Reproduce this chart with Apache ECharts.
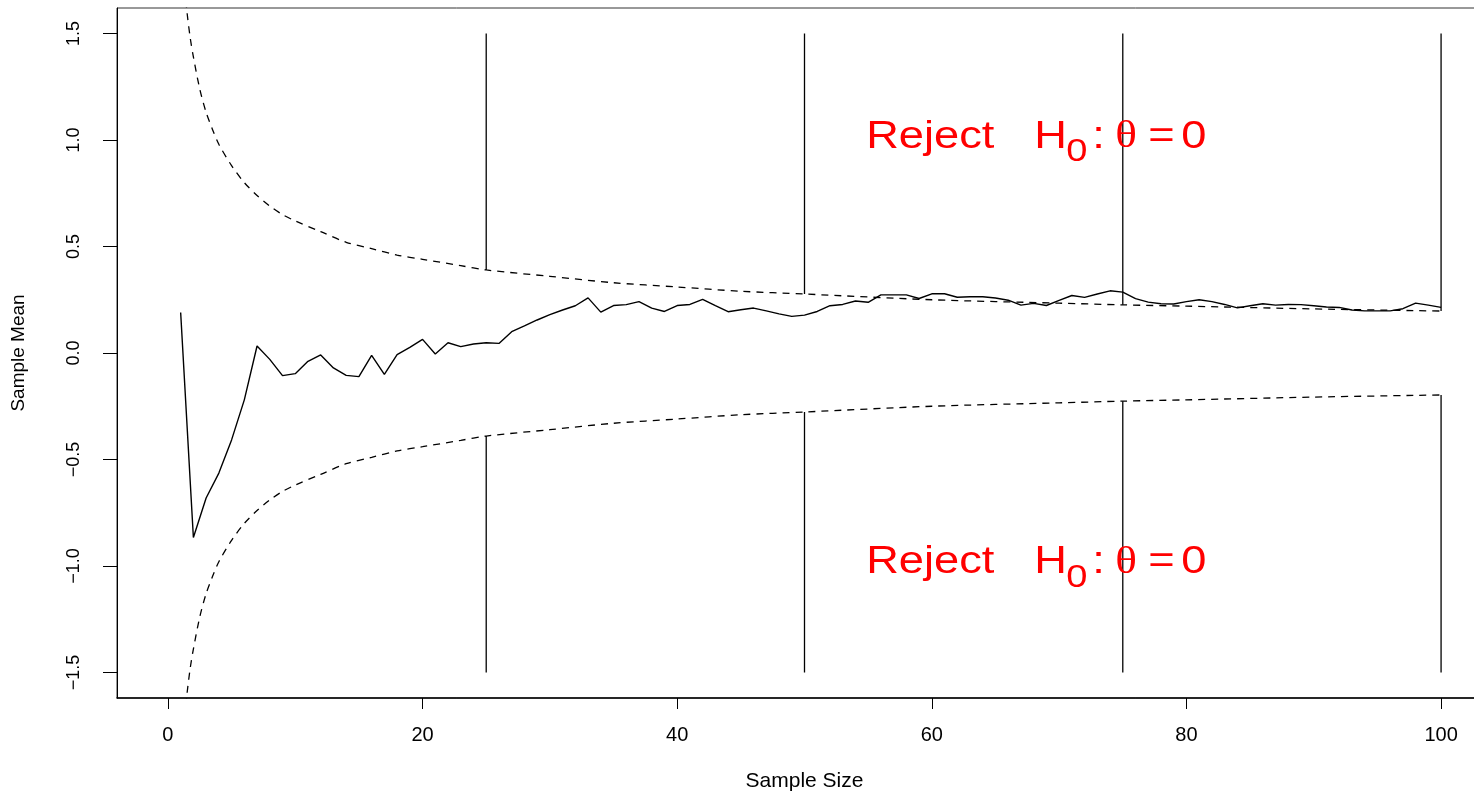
<!DOCTYPE html>
<html>
<head>
<meta charset="utf-8">
<script src="https://cdn.jsdelivr.net/npm/echarts@6/dist/echarts.min.js"></script>
<style>
html,body{margin:0;padding:0;background:#fff;}
#chart{width:1474px;height:791px;}
</style>
</head>
<body>
<div id="chart"></div>
<script>
// ---- data ----
const sampleSize = [1,2,3,4,5,6,7,8,9,10,11,12,13,14,15,16,17,18,19,20,
  21,22,23,24,25,26,27,28,29,30,31,32,33,34,35,36,37,38,39,40,
  41,42,43,44,45,46,47,48,49,50,51,52,53,54,55,56,57,58,59,60,
  61,62,63,64,65,66,67,68,69,70,71,72,73,74,75,76,77,78,79,80,
  81,82,83,84,85,86,87,88,89,90,91,92,93,94,95,96,97,98,99,100];
const sampleMean = [0.19,-0.866,-0.681,-0.564,-0.408,-0.220,0.033,-0.030,-0.106,-0.097,
  -0.039,-0.009,-0.070,-0.105,-0.111,-0.011,-0.100,-0.008,0.026,0.064,
  -0.005,0.048,0.030,0.042,0.048,0.045,0.100,0.127,0.155,0.180,
  0.202,0.222,0.259,0.192,0.223,0.227,0.241,0.211,0.195,0.223,
  0.228,0.252,0.222,0.194,0.203,0.211,0.198,0.184,0.172,0.178,
  0.195,0.222,0.228,0.244,0.238,0.273,0.273,0.273,0.256,0.278,
  0.278,0.262,0.264,0.264,0.258,0.248,0.225,0.233,0.223,0.247,
  0.270,0.261,0.277,0.292,0.286,0.255,0.239,0.231,0.230,0.241,
  0.250,0.241,0.228,0.212,0.222,0.231,0.225,0.228,0.227,0.222,
  0.216,0.214,0.202,0.198,0.198,0.198,0.208,0.234,0.225,0.214];
const boundN     = [1, 1.25, 1.5, 1.75, 2, 2.5, 3, 3.5, 4, 5, 6, 7, 8, 9, 10, 12, 14, 16, 18, 20, 23, 25, 30, 35, 40, 45, 50, 60, 70, 75, 80, 90, 100];
const upperBound = [1.96, 1.75, 1.60, 1.48, 1.39, 1.24, 1.13, 1.05, 0.98, 0.88, 0.80, 0.74, 0.69, 0.65, 0.62, 0.57, 0.52, 0.49, 0.46, 0.44, 0.41, 0.39, 0.36, 0.33, 0.31, 0.29, 0.277, 0.25, 0.234, 0.226, 0.22, 0.207, 0.197];
const lowerBound = [-1.96, -1.75, -1.60, -1.48, -1.39, -1.24, -1.13, -1.05, -0.98, -0.88, -0.80, -0.74, -0.69, -0.65, -0.62, -0.57, -0.52, -0.49, -0.46, -0.44, -0.41, -0.39, -0.36, -0.33, -0.31, -0.29, -0.277, -0.25, -0.234, -0.226, -0.22, -0.207, -0.197];
const lookN      = [25, 50, 75, 100];
const lookUpper  = [0.39, 0.277, 0.226, 0.197];
const lookLower  = [-0.39, -0.277, -0.226, -0.197];
const lookLimit  = 1.5;
const xTicks = [0, 20, 40, 60, 80, 100];
const yTicks = [-1.5, -1.0, -0.5, 0.0, 0.5, 1.0, 1.5];
const annotations = [{n: 55, y: 1.0}, {n: 55, y: -1.0}];

const FONT = '"Liberation Sans", Arial, Helvetica, sans-serif';
const chart = echarts.init(document.getElementById('chart'));

const series = [];
series.push({
  type: 'line', name: 'mean', data: sampleSize.map((n, i) => [n, sampleMean[i]]),
  symbol: 'none', lineStyle: {color: '#000', width: 1.4}, animation: false, clip: true, z: 5
});
series.push({
  type: 'line', name: 'upper', data: boundN.map((n, i) => [n, upperBound[i]]),
  symbol: 'none', smooth: 0.3, lineStyle: {color: '#000', width: 1.3, type: [7, 6]}, animation: false, clip: true
});
series.push({
  type: 'line', name: 'lower', data: boundN.map((n, i) => [n, lowerBound[i]]),
  symbol: 'none', smooth: 0.3, lineStyle: {color: '#000', width: 1.3, type: [7, 6]}, animation: false, clip: true
});
lookN.forEach((n, i) => {
  series.push({type: 'line', data: [[n, lookUpper[i]], [n, lookLimit]], symbol: 'none',
    lineStyle: {color: '#000', width: 1.3}, animation: false});
  series.push({type: 'line', data: [[n, -lookLimit], [n, lookLower[i]]], symbol: 'none',
    lineStyle: {color: '#000', width: 1.3}, animation: false});
});

chart.setOption({
  animation: false,
  backgroundColor: '#fff',
  grid: {left: 117, top: 8, width: 1375, height: 690, outerBoundsMode: 'none', containLabel: false,
    show: true, borderColor: '#333', borderWidth: 1, backgroundColor: 'transparent'},
  xAxis: {
    type: 'value', min: -4, max: 104,
    name: 'Sample Size', nameLocation: 'middle', nameGap: 73,
    nameTextStyle: {fontFamily: FONT, fontSize: 21, color: '#000'},
    axisLine: {show: true, onZero: false, lineStyle: {color: '#000', width: 1.5}},
    axisTick: {show: true, length: 11, customValues: xTicks, lineStyle: {color: '#000', width: 1}},
    axisLabel: {customValues: xTicks, margin: 27, fontFamily: FONT, fontSize: 20, color: '#000'},
    splitLine: {show: false}
  },
  yAxis: {
    type: 'value', min: -1.62, max: 1.62,
    name: 'Sample Mean', nameLocation: 'middle', nameGap: 89, nameRotate: 90,
    nameTextStyle: {fontFamily: FONT, fontSize: 19, color: '#000'},
    axisLine: {show: true, onZero: false, lineStyle: {color: '#000', width: 1}},
    axisTick: {show: true, length: 14, customValues: yTicks, lineStyle: {color: '#000', width: 1}},
    axisLabel: {customValues: yTicks, rotate: 90, margin: 34, fontFamily: FONT, fontSize: 18, color: '#000',
      formatter: v => v.toFixed(1).replace('-', '\u2212')},
    splitLine: {show: false}
  },
  series: series
});

// red "Reject H0 : θ = 0" annotations, positioned through the chart's scales
const pieces = [
  {t: 'Reject', dx: -2, dy: -3, size: 38, font: FONT},
  {t: 'H', dx: 166, dy: -3, size: 38, font: FONT},
  {t: '0', dx: 198, dy: 12, size: 32, font: FONT},
  {t: ':', dx: 224, dy: -3, size: 38, font: FONT},
  {t: '\u03b8', dx: 247, dy: -3, size: 38, font: '"Liberation Serif", "DejaVu Serif", serif'},
  {t: '=', dx: 280, dy: -3, size: 38, font: FONT},
  {t: '0', dx: 313, dy: -3, size: 38, font: FONT}
];
const graphics = [];
annotations.forEach(a => {
  const p = chart.convertToPixel({gridIndex: 0}, [a.n, a.y]);
  pieces.forEach(pc => {
    graphics.push({
      type: 'text', x: p[0] + pc.dx, y: p[1] + pc.dy, scaleX: 1.19, z: 10,
      style: {text: pc.t, fill: '#ff0000', fontSize: pc.size, fontFamily: pc.font,
        align: 'left', verticalAlign: 'middle'}
    });
  });
});
chart.setOption({graphic: graphics});
</script>
</body>
</html>
